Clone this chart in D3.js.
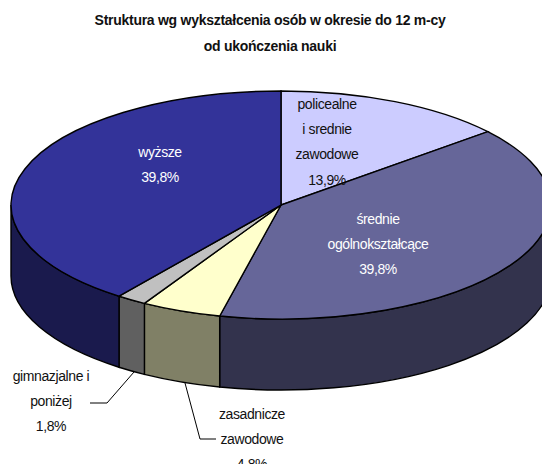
<!DOCTYPE html>
<html>
<head>
<meta charset="utf-8">
<script src="https://cdn.jsdelivr.net/npm/d3@7"></script>
<style>
  html, body { margin: 0; padding: 0; background: #fff; overflow: hidden; }
  text { font-family: "Liberation Sans", Arial, sans-serif; }
</style>
</head>
<body>
<div id="chart"></div>
<script>
// data, clockwise from 12 o'clock
var categories = ["policealne i srednie zawodowe", "średnie ogólnokształcące", "zasadnicze zawodowe", "gimnazjalne i poniżej", "wyższe"];
var values = [13.9, 39.8, 4.8, 1.8, 39.8];
var topColors = ["#CCCCFF", "#666699", "#FFFFCC", "#C0C0C0", "#333399"];
var sideColors = ["#66667F", "#33334D", "#808066", "#606060", "#1A1A4D"];
var titleLines = ["Struktura wg wykształcenia osób w okresie do 12 m-cy", "od ukończenia nauki"];

var width = 542, height = 464;
var cx = 281, cy = 205, rx = 270, ry = 114, depth = 71;

var svg = d3.select("#chart").append("svg")
  .attr("width", width)
  .attr("height", height)
  .style("display", "block");

var slices = d3.pie().sort(null).value(function(d) { return d; })(values);

function px(a) { return cx + rx * Math.sin(a); }
function py(a) { return cy - ry * Math.cos(a); }

// rim, only the front half of the disc shows
svg.selectAll(".side")
  .data(slices)
  .enter().append("path")
    .attr("class", "side")
    .attr("fill", function(d, i) { return sideColors[i]; })
    .attr("stroke", "#000")
    .attr("stroke-width", 1.4)
    .attr("d", function(d) {
      var a0 = Math.max(d.startAngle, Math.PI / 2),
          a1 = Math.min(d.endAngle, 3 * Math.PI / 2);
      if (a1 <= a0) return null;
      return "M" + px(a0) + "," + py(a0)
        + "A" + rx + "," + ry + " 0 0 1 " + px(a1) + "," + py(a1)
        + "L" + px(a1) + "," + (py(a1) + depth)
        + "A" + rx + "," + ry + " 0 0 0 " + px(a0) + "," + (py(a0) + depth)
        + "Z";
    });

var arc = d3.arc().innerRadius(0).outerRadius(1);

svg.append("g")
  .attr("transform", "translate(" + cx + "," + cy + ") scale(" + rx + "," + ry + ")")
  .selectAll("path")
  .data(slices)
  .enter().append("path")
    .attr("d", arc)
    .attr("fill", function(d, i) { return topColors[i]; })
    .attr("stroke", "#000")
    .attr("stroke-width", 1.4)
    .attr("vector-effect", "non-scaling-stroke");

// title
svg.selectAll(".title")
  .data(titleLines)
  .enter().append("text")
    .attr("class", "title")
    .attr("x", 270)
    .attr("y", function(d, i) { return 25 + i * 26; })
    .attr("text-anchor", "middle")
    .attr("font-size", 14)
    .attr("letter-spacing", -0.27)
    .attr("font-weight", "bold")
    .attr("fill", "#111")
    .text(function(d) { return d; });

// data labels
var labels = [
  { x: 327, y: 109, fill: "#111", lines: ["policealne", "i srednie", "zawodowe", "13,9%"] },
  { x: 378, y: 224, fill: "#fff", lines: ["średnie", "ogólnokształcące", "39,8%"] },
  { x: 160, y: 157, fill: "#fff", lines: ["wyższe", "39,8%"] },
  { x: 51, y: 381, fill: "#111", lines: ["gimnazjalne i", "poniżej", "1,8%"] },
  { x: 252, y: 419, fill: "#111", lines: ["zasadnicze", "zawodowe", "4,8%"] }
];

var label = svg.selectAll(".label")
  .data(labels)
  .enter().append("text")
    .attr("class", "label")
    .attr("text-anchor", "middle")
    .attr("font-size", 14)
    .attr("letter-spacing", -0.4)
    .attr("fill", function(d) { return d.fill; });

label.selectAll("tspan")
  .data(function(d) { return d.lines.map(function(l, i) { return { x: d.x, y: d.y + i * 25.2, t: l }; }); })
  .enter().append("tspan")
    .attr("x", function(d) { return d.x; })
    .attr("y", function(d) { return d.y; })
    .text(function(d) { return d.t; });

// leader lines
var leaders = [
  [[134, 372], [107, 403], [90, 403]],
  [[185, 383], [200, 439], [216, 439]]
];

svg.selectAll(".leader")
  .data(leaders)
  .enter().append("path")
    .attr("class", "leader")
    .attr("fill", "none")
    .attr("stroke", "#000")
    .attr("stroke-width", 1)
    .attr("d", d3.line());
</script>
</body>
</html>
